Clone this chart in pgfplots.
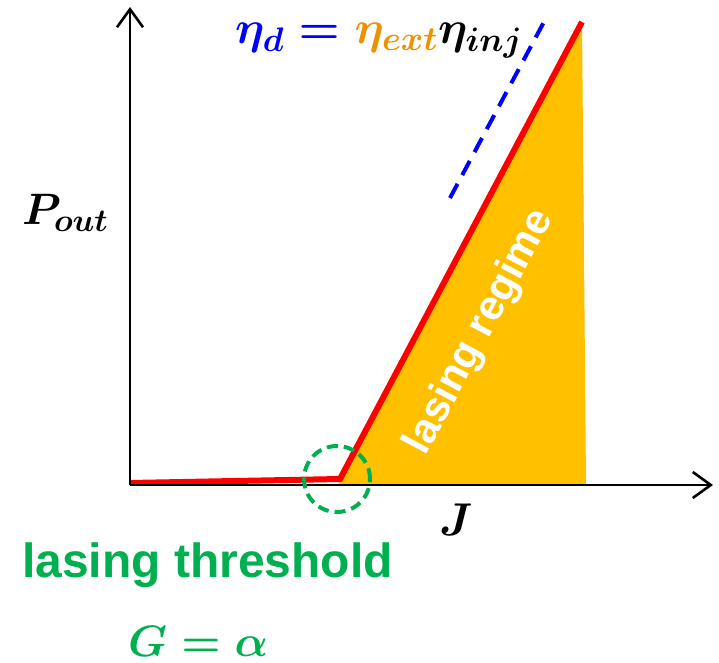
\documentclass[border=0pt]{standalone}
\usepackage{pgfplots}
\pgfplotsset{compat=1.18}
\usetikzlibrary{arrows.meta}
\usepackage{fontspec}
\setmainfont{Liberation Sans}
% scalable math fonts for large labels
\DeclareFontShape{OML}{cmm}{b}{it}{<->cmmib10}{}
\DeclareFontShape{OML}{cmm}{m}{it}{<->cmmi10}{}
\DeclareFontShape{OT1}{cmr}{bx}{n}{<->cmbx10}{}
\DeclareFontShape{OT1}{cmr}{m}{n}{<->cmr10}{}
\DeclareFontShape{OMS}{cmsy}{b}{n}{<->cmbsy10}{}
\DeclareFontShape{OMS}{cmsy}{m}{n}{<->cmsy10}{}
\DeclareMathSizes{46}{46}{34}{26}
\DeclareMathSizes{44}{44}{32}{24}
\definecolor{laserred}{RGB}{255,0,0}
\definecolor{regimegold}{RGB}{255,192,0}
\definecolor{threshgreen}{RGB}{0,176,80}
\definecolor{extorange}{RGB}{240,144,0}
\definecolor{slopeblue}{RGB}{0,0,255}
% label fonts and texts
\newcommand\eqfont{\fontsize{46}{50}\selectfont\mathversion{bold}}
\newcommand\axfont{\fontsize{44}{48}\selectfont\mathversion{bold}}
\newcommand\jfont{\fontsize{46}{50}\selectfont\mathversion{bold}}
\newcommand\thfont{\fontsize{48}{52}\selectfont\bfseries}
\newcommand\rgfont{\fontsize{42}{46}\selectfont\bfseries}
\newcommand\etaeq{$\color{slopeblue}\eta_{d}={}\color{extorange}\eta_{ext}\color{black}\eta_{inj}$}
\newcommand\pout{$P_{out}$}
\newcommand\jlab{$J$}
\newcommand\gal{$G=\alpha$}
\begin{document}
\begin{tikzpicture}
\begin{axis}[
  scale only axis, width=719pt, height=662pt,
  xmin=0, xmax=719, ymin=0, ymax=662,
  axis lines=none, xtick=\empty, ytick=\empty,
  clip=false,
]
% lasing regime area below the L-I curve
\addplot[draw=none, fill=regimegold] coordinates {
  (338,177) (340,183) (582,640) (586,177) (338,177)
};
% L-I curve: spontaneous emission, then lasing above threshold
\addplot[laserred, line width=6pt, line join=miter] coordinates {
  (130,179) (340,183) (582,640)
};
% slope efficiency guide
\addplot[slopeblue, line width=4pt, dash pattern=on 16pt off 10pt] coordinates {
  (450,464) (545,642)
};
% reference points for the annotations
\coordinate (O) at (axis cs:130,177);
\coordinate (XE) at (axis cs:713,177);
\coordinate (YE) at (axis cs:130,655);
\coordinate (TH) at (axis cs:337,183);
\coordinate (LL) at (axis cs:0,0);
\coordinate (UR) at (axis cs:719,662);
\coordinate (EQ) at (axis cs:235,618);
\coordinate (PL) at (axis cs:22,437);
\coordinate (JL) at (axis cs:456,142);
\coordinate (TL) at (axis cs:22,85);
\coordinate (GL) at (axis cs:128,6);
\coordinate (RL) at (axis cs:480,330);
\end{axis}
\path (LL) rectangle (UR);
% axes with open arrow heads
\draw[line width=2.6pt, -{Straight Barb[length=18pt,width=26pt]}] (O) -- (XE);
\draw[line width=2.6pt, -{Straight Barb[length=18pt,width=26pt]}] (O) -- (YE);
% threshold marker
\draw[threshgreen, line width=4pt, dash pattern=on 11pt off 6pt] (TH) circle (33pt);
% labels
\node[anchor=base west, inner sep=0pt, font=\eqfont] at (EQ) {\etaeq};
\node[anchor=base west, inner sep=0pt, font=\axfont] at (PL) {\pout};
\node[anchor=center, inner sep=0pt, font=\jfont] at (JL) {\jlab};
\node[anchor=base west, inner sep=0pt, text=threshgreen, font=\thfont] at (TL) {lasing threshold};
\node[anchor=base west, inner sep=0pt, text=threshgreen, font=\axfont] at (GL) {\gal};
\node[rotate=62, inner sep=0pt, text=white, font=\rgfont] at (RL) {lasing regime};
\end{tikzpicture}
\end{document}
